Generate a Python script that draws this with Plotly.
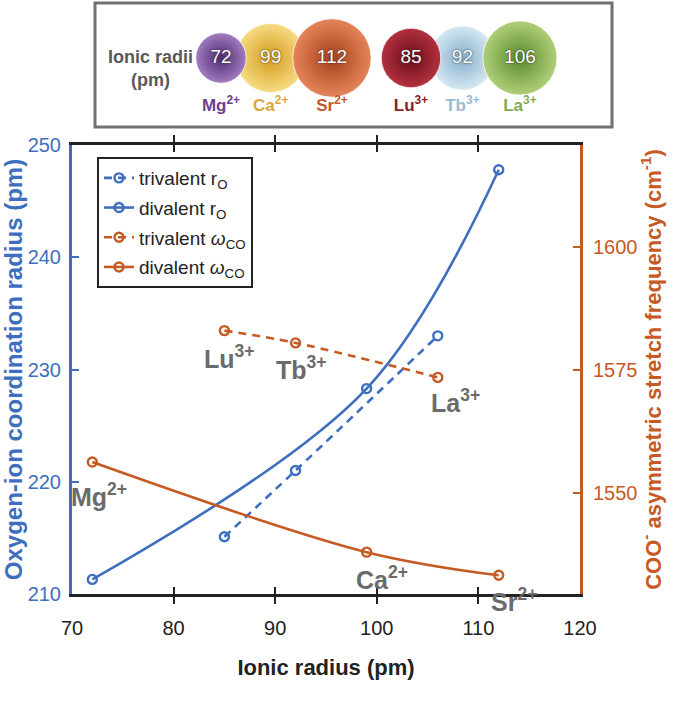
import plotly.graph_objects as go

# ---------------- data ----------------
div_ions = ["Mg", "Ca", "Sr"]
div_charge = ["2+", "2+", "2+"]
div_radius = [72, 99, 112]
div_rO = [211.3, 228.3, 247.8]
div_wCO = [1556.3, 1538.0, 1533.3]

tri_ions = ["Lu", "Tb", "La"]
tri_charge = ["3+", "3+", "3+"]
tri_radius = [85, 92, 106]
tri_rO = [215.1, 221.0, 233.0]
tri_wCO = [1583.0, 1580.5, 1573.5]

x_ticks = [70, 80, 90, 100, 110, 120]
y_left_ticks = [210, 220, 230, 240, 250]
y_right_ticks = [1550, 1575, 1600]

# ---------------- styles ----------------
W, H = 677, 718
ML, MR, MT, MB = 72, 65, 3, 124
PW, PH = W - ML - MR, H - MT - MB
BLUE = "#3e6fbe"
ORANGE = "#c65a24"
GRAY = "#6b6b6b"
FONT = "Liberation Sans, Arial, Helvetica, sans-serif"


def pxx(p):
    return (p - ML) / PW


def pxy(p):
    return (H - MB - p) / PH


# point-label offsets (px) for divalent and trivalent ions
div_label_off = [(7, -33), (15, -26), (15, -25)]
tri_label_off = [(5, -26), (6, -25), (18, -24)]

# sphere panel styles
sphere_center = ["#a27cc0", "#f7dc83", "#e5845a", "#b3313f", "#d6e8f2", "#afcf78"]
sphere_edge = ["#4e2a70", "#d39a1f", "#a5401a", "#6a0c1b", "#86afcc", "#5b8a2c"]
label_color = ["#6c3f8f", "#d9a838", "#c35a2c", "#8b1c2c", "#95bcd8", "#86aa4e"]
K = 0.35          # px per pm of radius
OVERLAP = 0.83
group_start = [126, 316]
draw_order = [1, 4, 0, 2, 3, 5]

fig = go.Figure()

line_w = 2.6
msize = 9

traces = [
    (tri_radius, tri_rO, "trivalent r<sub>O</sub>", BLUE, "8px,6px", "y"),
    (div_radius, div_rO, "divalent r<sub>O</sub>", BLUE, "solid", "y"),
    (tri_radius, tri_wCO, "trivalent <i>ω</i><sub>CO</sub>", ORANGE, "8px,6px", "y2"),
    (div_radius, div_wCO, "divalent <i>ω</i><sub>CO</sub>", ORANGE, "solid", "y2"),
]
for k, (xs, ys, name, col, dash, yax) in enumerate(traces):
    fig.add_trace(go.Scatter(
        x=xs, y=ys, mode="lines+markers", name=name, legendgroup=f"g{k}",
        line=dict(color=col, width=line_w, dash=dash, shape="spline"),
        marker=dict(symbol="circle-open", size=msize, color=col, line=dict(width=2.4)),
        xaxis="x", yaxis=yax))

annotations = []
for ion, ch, xr, w, (dx, dy) in zip(div_ions, div_charge, div_radius, div_wCO, div_label_off):
    annotations.append(dict(x=xr, y=w, xref="x", yref="y2", text=f"<b>{ion}<sup>{ch}</sup></b>",
                            showarrow=False, xshift=dx, yshift=dy,
                            font=dict(family=FONT, size=25, color=GRAY)))
for ion, ch, xr, w, (dx, dy) in zip(tri_ions, tri_charge, tri_radius, tri_wCO, tri_label_off):
    annotations.append(dict(x=xr, y=w, xref="x", yref="y2", text=f"<b>{ion}<sup>{ch}</sup></b>",
                            showarrow=False, xshift=dx, yshift=dy,
                            font=dict(family=FONT, size=25, color=GRAY)))

# ---------------- top sphere panel ----------------
all_ions = div_ions + tri_ions
all_charge = div_charge + tri_charge
all_radius = div_radius + tri_radius
centers = []
for g, radii in enumerate([div_radius, tri_radius]):
    cs = [group_start[g]]
    for a, b in zip(radii[:-1], radii[1:]):
        cs.append(cs[-1] + (a + b) * K * OVERLAP)
    centers += cs

panel_h = 124
sphere_y = panel_h - 55
label_y = panel_h - 104

for i in draw_order:
    fig.add_trace(go.Scatter(
        x=[centers[i]], y=[sphere_y], mode="markers", showlegend=False, hoverinfo="skip",
        marker=dict(size=2 * K * all_radius[i], color=sphere_center[i],
                    gradient=dict(type="radial", color=sphere_edge[i]),
                    line=dict(width=1, color="rgba(255,255,255,0.7)")),
        xaxis="x3", yaxis="y3"))
fig.add_trace(go.Scatter(
    x=centers, y=[sphere_y] * 6, mode="text", showlegend=False, hoverinfo="skip",
    text=[str(r) for r in all_radius], textposition="middle center",
    textfont=dict(family=FONT, size=19, color="white", shadow="0px 0px 2px #222"),
    xaxis="x3", yaxis="y3"))
fig.add_trace(go.Scatter(
    x=centers, y=[label_y] * 6, mode="text", showlegend=False, hoverinfo="skip",
    text=[f"<b>{a}<sup>{c}</sup></b>" for a, c in zip(all_ions, all_charge)],
    textposition="middle center",
    textfont=dict(family=FONT, size=17, color=label_color),
    xaxis="x3", yaxis="y3"))

annotations.append(dict(x=55, y=panel_h - 65, xref="x3", yref="y3",
                        text="<b>Ionic radii<br>(pm)</b>", showarrow=False,
                        font=dict(family=FONT, size=18, color="#5a5a5a")))

shapes = [dict(type="rect", xref="paper", yref="paper",
               x0=pxx(95), x1=pxx(612), y0=pxy(127), y1=pxy(3),
               line=dict(color="#707070", width=3), fillcolor="rgba(0,0,0,0)")]

fig.update_layout(
    width=W, height=H,
    margin=dict(l=ML, r=MR, t=MT, b=MB, autoexpand=False),
    paper_bgcolor="white", plot_bgcolor="white",
    font=dict(family=FONT, size=20, color="#222"),
    showlegend=True,
    legend=dict(x=pxx(97), y=pxy(157), xanchor="left", yanchor="top",
                bgcolor="white", bordercolor="#222", borderwidth=2,
                font=dict(family=FONT, size=19, color="#222"),
                tracegroupgap=2, itemwidth=30),
    xaxis=dict(domain=[0, pxx(580)], range=[70, 120], tickvals=x_ticks,
               ticks="inside", ticklen=7, tickwidth=2, tickcolor="#222",
               showline=True, linecolor="#222", linewidth=3, mirror="allticks",
               showgrid=False, zeroline=False, ticklabelstandoff=14,
               tickfont=dict(size=20, color="#222"),
               title=dict(text="<b>Ionic radius (pm)</b>", font=dict(size=22, color="#222"), standoff=22),
               anchor="y"),
    yaxis=dict(domain=[0, pxy(145)], range=[210, 250], tickvals=y_left_ticks,
               ticks="inside", ticklen=7, tickwidth=2, tickcolor=BLUE,
               showline=True, linecolor=BLUE, linewidth=3,
               showgrid=False, zeroline=False, ticklabelstandoff=4,
               tickfont=dict(size=20, color=BLUE),
               title=dict(text="<b>Oxygen-ion coordination radius (pm)</b>",
                          font=dict(size=24, color=BLUE), standoff=2),
               anchor="x"),
    yaxis2=dict(range=[1529.5, 1620.7], tickvals=y_right_ticks, overlaying="y", side="right",
                ticks="inside", ticklen=7, tickwidth=2, tickcolor=ORANGE,
                showline=True, linecolor=ORANGE, linewidth=3,
                showgrid=False, zeroline=False, ticklabelstandoff=6,
                tickfont=dict(size=20, color=ORANGE),
                title=dict(text="<b>COO<sup>-</sup> asymmetric stretch frequency (cm<sup>-1</sup>)</b>",
                           font=dict(size=22, color=ORANGE), standoff=4),
                anchor="x"),
    xaxis3=dict(domain=[pxx(95), 1], range=[0, 517], visible=False, fixedrange=True),
    yaxis3=dict(domain=[pxy(127), 1], range=[0, panel_h], visible=False, fixedrange=True,
                anchor="x3"),
    annotations=annotations,
    shapes=shapes,
)

fig.write_html("out.html", config={"displayModeBar": False},
               post_script="document.body.style.margin='0px';document.body.style.overflow='hidden';")
